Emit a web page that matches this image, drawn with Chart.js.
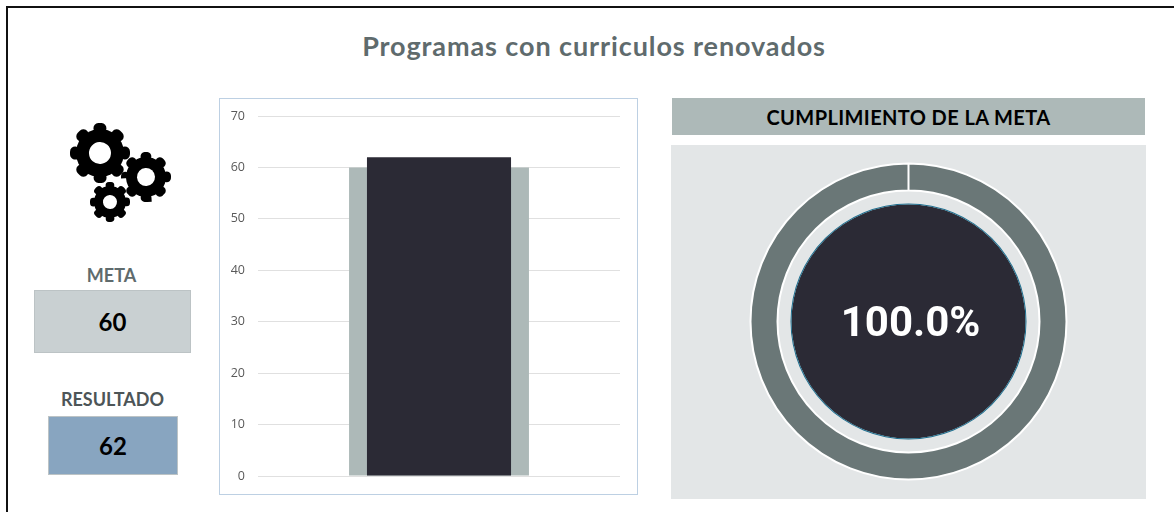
<!DOCTYPE html>
<html>
<head>
<meta charset="utf-8">
<title>Programas con curriculos renovados</title>
<script src="https://cdn.jsdelivr.net/npm/chart.js@4"></script>
<style>
  html, body { margin: 0; padding: 0; background: #fff; }
  body { width: 1174px; height: 512px; position: relative; overflow: hidden; font-family: Lato, sans-serif; font-weight: 700; }
  .abs { position: absolute; }
  .center { display: flex; align-items: center; justify-content: center; white-space: nowrap; box-sizing: border-box; }
  #bar-wrap { left: 219px; top: 98px; width: 419px; height: 397px; box-sizing: border-box; border: 1px solid #bdd0e3; }
  #ring-wrap { left: 748px; top: 161px; width: 321px; height: 321px; }
  #pct { font-family: Roboto, Arial, sans-serif; font-weight: 700; font-size: 42px; color: #fff; }
</style>
</head>
<body>
<div class="abs" style="left:6px;top:6px;width:1168px;height:2px;background:#111"></div>
<div class="abs" style="left:6px;top:6px;width:2px;height:506px;background:#111"></div>

<div class="abs center" style="left:219px;top:24px;width:750px;height:42px;font-size:27px;letter-spacing:0.9px;color:#5f6b6d">Programas con curriculos renovados</div>

<svg class="abs" style="left:60px;top:115px" width="120" height="115" viewBox="60 115 120 115" id="gears"></svg>

<div class="abs center" style="left:33px;top:264px;width:157px;height:22px;font-size:18px;color:#5f6b6d">META</div>
<div class="abs center" id="meta-box" style="left:34px;top:290px;width:157px;height:63px;background:#c9d0d2;border:1px solid #bcc3c5;font-size:24px;color:#000"></div>
<div class="abs center" style="left:34px;top:388px;width:157px;height:22px;font-size:18px;color:#4d5557">RESULTADO</div>
<div class="abs center" id="res-box" style="left:48px;top:416px;width:130px;height:59px;background:#88a5c0;border:1px solid #bcc3c5;font-size:24px;color:#000"></div>

<div class="abs" id="bar-wrap"><canvas id="barChart"></canvas></div>

<div class="abs center" style="left:672px;top:98px;width:473px;height:37px;background:#adb9b8;font-size:20px;color:#000;letter-spacing:0.4px">CUMPLIMIENTO DE LA META</div>
<div class="abs" style="left:671px;top:145px;width:475px;height:354px;background:#e3e6e7"></div>
<div class="abs" id="ring-wrap"><canvas id="ringChart"></canvas></div>
<div class="abs center" id="pct" style="left:750px;top:298px;width:321px;height:46px"></div>

<script>
// valores
const categories = ["Programas"];
const metaValues = [60];
const resultadoValues = [62];
const yTicks = [0, 10, 20, 30, 40, 50, 60, 70];
const cumplimiento = [100, 0];
const discValues = [1];
const pctLabel = "100.0%";

document.getElementById("meta-box").textContent = metaValues[0];
document.getElementById("res-box").textContent = resultadoValues[0];
document.getElementById("pct").textContent = pctLabel;

// engranajes decorativos
const gears = [[100, 153, 30, 11], [146, 177, 25, 9], [110, 202, 20, 7]];
document.getElementById("gears").innerHTML = gears.map(g => {
  const [cx, cy, r, hole] = g;
  return `<g transform="rotate(-3.4 ${cx} ${cy})">
    <circle cx="${cx}" cy="${cy}" r="${r * 0.8}" fill="#000"/>
    <circle cx="${cx}" cy="${cy}" r="${r * 0.83}" fill="none" stroke="#000" stroke-width="${r * 0.34}" stroke-linecap="round" pathLength="16" stroke-dasharray="0.3 1.7"/>
    <circle cx="${cx}" cy="${cy}" r="${hole}" fill="#fff"/></g>`;
}).join("");

Chart.defaults.animation = false;

new Chart(document.getElementById("barChart").getContext("2d"), {
  type: "bar",
  data: {
    labels: categories,
    datasets: [
      { label: "Resultado", data: resultadoValues, backgroundColor: "#2b2a35", barPercentage: 0.398, categoryPercentage: 1, grouped: false, order: 1 },
      { label: "Meta", data: metaValues, backgroundColor: "#adb9b8", barPercentage: 0.497, categoryPercentage: 1, grouped: false, order: 2 }
    ]
  },
  options: {
    responsive: true,
    maintainAspectRatio: false,
    layout: { padding: { top: 17, bottom: 18, right: 17 } },
    plugins: { legend: { display: false }, tooltip: { enabled: false } },
    scales: {
      x: { display: false },
      y: {
        min: 0,
        max: 70,
        afterBuildTicks: axis => { axis.ticks = yTicks.map(v => ({ value: v })); },
        afterFit: axis => { axis.width = 38; },
        // hueco entre numero y linea con tick transparente, ticks.padding empuja el area hacia abajo
        ticks: { color: "#595959", padding: 0, font: { family: "'Open Sans'", size: 12.5 } },
        grid: { color: "#e0e0e0", tickColor: "transparent", tickLength: 13 },
        border: { display: false }
      }
    }
  }
});

new Chart(document.getElementById("ringChart").getContext("2d"), {
  type: "doughnut",
  data: {
    datasets: [
      { data: cumplimiento, backgroundColor: ["#6a7777", "#e3e6e7"], borderColor: "#fff", borderWidth: 2, weight: 27 },
      { data: discValues, backgroundColor: "transparent", borderWidth: 0, weight: 13 },
      { data: discValues, backgroundColor: "#1f6f8f", borderWidth: 0, weight: 1 },
      { data: discValues, backgroundColor: "#2b2a35", borderWidth: 0, weight: 117 }
    ]
  },
  options: {
    responsive: true,
    maintainAspectRatio: false,
    cutout: 0,
    radius: 158,
    plugins: { legend: { display: false }, tooltip: { enabled: false } }
  }
});
</script>
</body>
</html>
